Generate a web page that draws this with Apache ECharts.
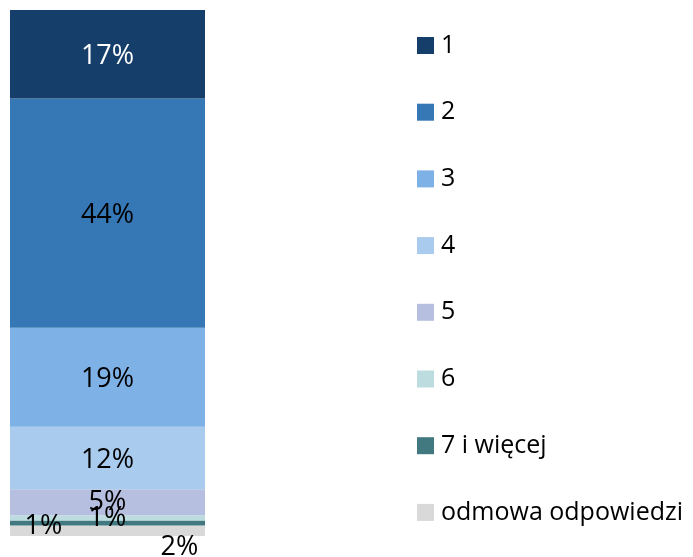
<!DOCTYPE html>
<html>
<head>
<meta charset="utf-8">
<script src="https://cdn.jsdelivr.net/npm/echarts@6/dist/echarts.min.js"></script>
<style>
  html, body { margin: 0; padding: 0; background: #fff; }
  #chart { width: 693px; height: 557px; }
</style>
</head>
<body>
<div id="chart"></div>
<script>
// Single stacked column, segments listed from bottom to top
const categories = [''];
const seriesNames = ['odmowa odpowiedzi', '7 i więcej', '6', '5', '4', '3', '2', '1'];
const seriesValues = [2, 1, 1, 5, 12, 19, 44, 17];
const seriesColors = ['#d9d9d9', '#42787f', '#bcdcdf', '#b6bfe0', '#a8cbee', '#7eb1e5', '#3677b5', '#153e6a'];
const labelColors = ['#000', '#000', '#000', '#000', '#000', '#000', '#000', '#fff'];
const labelOffsets = [[72, 17], [-64, 3], [0, 1], [0, 0], [0, 2], [0, 2], [0, 2], [0, 2]];
const legendOrder = ['1', '2', '3', '4', '5', '6', '7 i więcej', 'odmowa odpowiedzi'];

const total = seriesValues.reduce((a, b) => a + b, 0);
const FONT = 'Open Sans';

const chart = echarts.init(document.getElementById('chart'));
chart.setOption({
  animation: false,
  grid: { left: 10, top: 10, width: 195, height: 526, containLabel: false },
  xAxis: {
    type: 'category',
    data: categories,
    show: false
  },
  yAxis: {
    type: 'value',
    min: 0,
    max: total,
    show: false
  },
  legend: {
    orient: 'vertical',
    left: 417,
    top: 33,
    height: 526,
    padding: 0,
    icon: 'rect',
    itemWidth: 17,
    itemHeight: 17,
    itemGap: 41.7,
    data: legendOrder,
    textStyle: {
      fontFamily: FONT,
      fontSize: 25,
      color: '#000',
      padding: [0, 0, 0, 2]
    }
  },
  series: seriesNames.map((name, i) => ({
    name: name,
    type: 'bar',
    stack: 'total',
    barWidth: '100%',
    data: [seriesValues[i]],
    itemStyle: { color: seriesColors[i] },
    label: {
      show: true,
      position: 'inside',
      offset: labelOffsets[i],
      formatter: seriesValues[i] + '%',
      fontFamily: FONT,
      fontSize: 27,
      color: labelColors[i]
    }
  }))
});
</script>
</body>
</html>
